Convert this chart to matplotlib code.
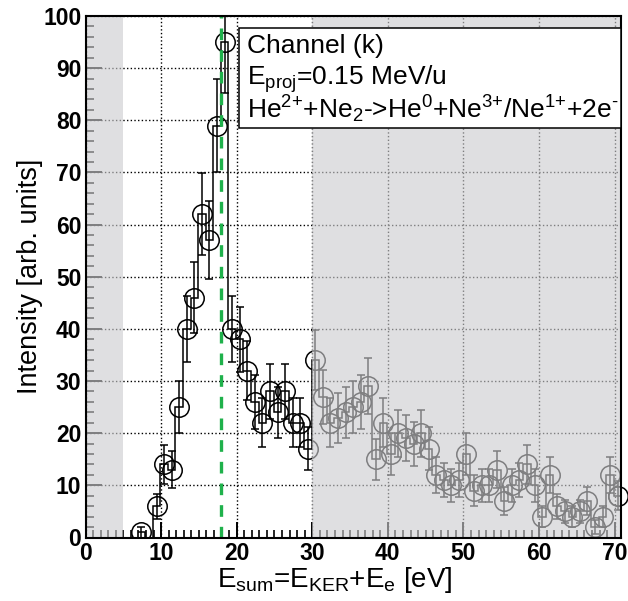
import numpy as np
import matplotlib
matplotlib.use('Agg')
import matplotlib.pyplot as plt
from matplotlib.patches import Rectangle
from matplotlib.ticker import MultipleLocator

plt.rcParams['font.family'] = ['Liberation Sans', 'DejaVu Sans']
plt.rcParams['mathtext.fontset'] = 'custom'
plt.rcParams['mathtext.rm'] = 'Liberation Sans'
plt.rcParams['mathtext.it'] = 'Liberation Sans:italic'
plt.rcParams['mathtext.bf'] = 'Liberation Sans:bold'

# ---- data ----
energy = [7.4, 8.4, 9.4, 10.4, 11.4, 12.4, 13.4, 14.4, 15.4, 16.4,
          17.4, 18.4, 19.4, 20.4, 21.4, 22.4, 23.4, 24.4, 25.4, 26.4,
          27.4, 28.4, 29.4, 30.4, 31.4, 32.4, 33.4, 34.4, 35.4, 36.4,
          37.4, 38.4, 39.4, 40.4, 41.4, 42.4, 43.4, 44.4, 45.4, 46.4,
          47.4, 48.4, 49.4, 50.4, 51.4, 52.4, 53.4, 54.4, 55.4, 56.4,
          57.4, 58.4, 59.4, 60.4, 61.4, 62.4, 63.4, 64.4, 65.4, 66.4,
          67.4, 68.4, 69.4, 70.4]
counts = [1, 0, 6, 14, 13, 25, 40, 46, 62, 57,
          79, 95, 40, 38, 32, 26, 22, 28, 24, 28,
          22, 22, 17, 34, 27, 22, 23, 24, 25, 26,
          29, 15, 22, 16, 20, 19, 18, 20, 17, 12,
          11, 10, 11, 16, 9, 10, 10, 13, 7, 10,
          11, 14, 10, 4, 12, 6, 5, 4, 5, 7,
          2, 4, 12, 8]
errors = [1.0, 0.0, 2.4, 3.7, 3.6, 5.0, 6.3, 6.8, 7.9, 7.5,
          8.9, 9.7, 6.3, 6.2, 5.7, 5.1, 4.7, 5.3, 4.9, 5.3,
          4.7, 4.7, 4.1, 5.8, 5.2, 4.7, 4.8, 4.9, 5.0, 5.1,
          5.4, 3.9, 4.7, 4.0, 4.5, 4.4, 4.2, 4.5, 4.1, 3.5,
          3.3, 3.2, 3.3, 4.0, 3.0, 3.2, 3.2, 3.6, 2.6, 3.2,
          3.3, 3.7, 3.2, 2.0, 3.5, 2.4, 2.2, 2.0, 2.2, 2.6,
          1.4, 2.0, 3.5, 2.8]
bin_width = 1.0
x_ticks = [0, 10, 20, 30, 40, 50, 60, 70]
y_ticks = [0, 10, 20, 30, 40, 50, 60, 70, 80, 90, 100]
x_range = (0, 70.8)
y_range = (0, 100)
peak_energy = 17.9
shaded_regions = [(0.0, 4.9), (29.9, 70.8)]
info_lines = ["Channel (k)",
              r"$\mathregular{E_{proj}}$=0.15 MeV/u",
              r"He$^{\text{2+}}$+Ne$_{\text{2}}$->He$^{\text{0}}$+"
              r"Ne$^{\text{3+}}$/Ne$^{\text{1+}}$+2e$^{\text{-}}$"]
x_label = r"$\mathregular{E_{sum}}$=$\mathregular{E_{KER}}$+$\mathregular{E_{e}}$ [eV]"
y_label = "Intensity [arb. units]"

e = np.array(energy)
c = np.array(counts, dtype=float)
err = np.array(errors)

W, H = 628, 601
fig = plt.figure(figsize=(W / 100, H / 100), dpi=100)
L, R, T, B = 85.5, 620.7, 16.0, 537.5
ax = fig.add_axes([L / W, 1 - B / H, (R - L) / W, (B - T) / H])
ax.set_xlim(*x_range)
ax.set_ylim(*y_range)

# histogram outline
edges = np.append(e - bin_width / 2, e[-1] + bin_width / 2)
ax.stairs(c, edges, color='k', lw=1.1, baseline=None, zorder=2)

mask = c > 0
ax.errorbar(e[mask], c[mask], yerr=err[mask], fmt='o', mfc='none', mec='k',
            ms=14, mew=1.1, ecolor='k', elinewidth=1.1, capsize=3.2,
            capthick=1.1, zorder=3)
ax.plot(e[-1:], c[-1:], 'o', mfc='none', mec='k', ms=14, mew=1.1,
        clip_on=False, zorder=3)

# green dashed marker line
ax.axvline(peak_energy, color='#1fb14b', lw=2.4, dashes=(3.5, 3.0), zorder=3.5)

# translucent gray overlays
for lo, hi in shaded_regions:
    ax.add_patch(Rectangle((lo, y_range[0]), hi - lo, y_range[1] - y_range[0],
                           facecolor=(0.80, 0.80, 0.81), alpha=0.62, lw=0,
                           zorder=4))

# info box
bx0 = (239.3 - L) / (R - L)
by0 = (B - 128.3) / (B - T)
by1 = (B - 27.7) / (B - T)
ax.add_patch(Rectangle((bx0, by0), 1 - bx0, by1 - by0, transform=ax.transAxes,
                       facecolor='white', edgecolor='k', lw=1.1, zorder=6,
                       clip_on=False))
tx = (246.7 - L) / (R - L)
for line, py in zip(info_lines, [53, 85, 118]):
    ax.text(tx, (B - py) / (B - T), line, transform=ax.transAxes,
            fontsize=19, va='baseline', ha='left', zorder=7)

# grid & ticks
ax.grid(True, which='major', linestyle=':', color='k', lw=1.0)
ax.xaxis.set_minor_locator(MultipleLocator(1))
ax.yaxis.set_minor_locator(MultipleLocator(2))
ax.set_xticks(x_ticks, labels=[str(t) for t in x_ticks],
              fontsize=16.5, fontweight='bold')
ax.set_yticks(y_ticks, labels=[str(t) for t in y_ticks],
              fontsize=16.5, fontweight='bold')
ax.tick_params(which='both', direction='in', top=False, right=False,
               color='k')
ax.tick_params(which='major', length=11.5, width=1.4)
ax.tick_params(which='minor', length=5.5, width=1.2)
ax.tick_params(axis='x', which='major', pad=3.5)
ax.tick_params(axis='y', which='major', pad=3)

for s in ax.spines.values():
    s.set_linewidth(1.5)
    s.set_zorder(5)

ax.set_xlabel(x_label, fontsize=20)
ax.xaxis.set_label_coords((335 - L) / (R - L), (B - 565) / (B - T))
ax.set_ylabel(y_label, fontsize=19.5)
ax.yaxis.set_label_coords((43 - L) / (R - L), 0.5)

fig.savefig('out.png', dpi=100)
